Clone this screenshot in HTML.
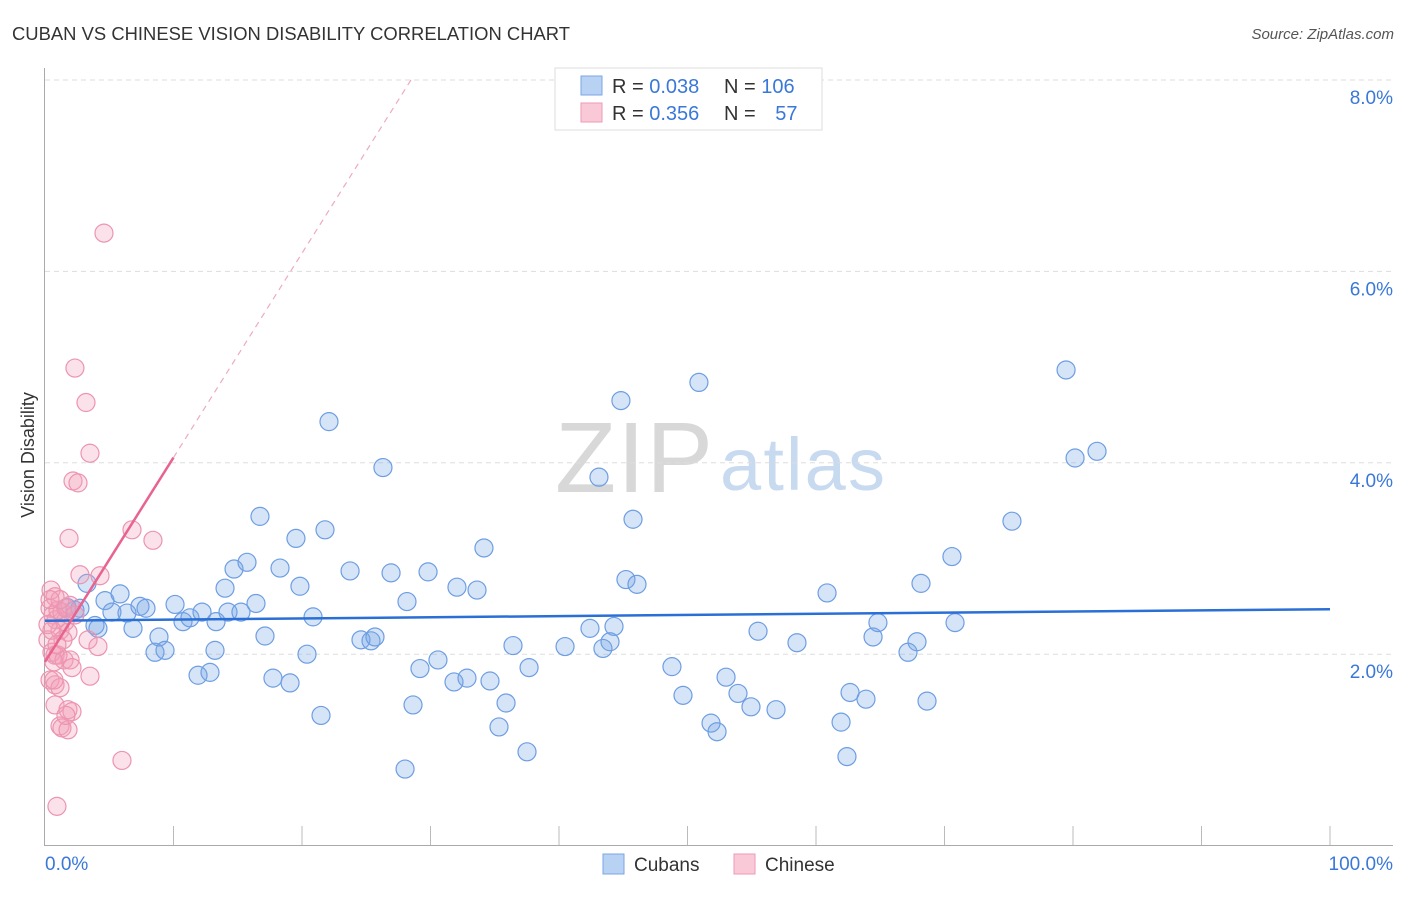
<!DOCTYPE html>
<html><head><meta charset="utf-8"><style>
body{margin:0;background:#fff;font-family:"Liberation Sans",sans-serif;}
svg text{font-family:"Liberation Sans",sans-serif;}
</style></head><body>
<svg id="c" width="1406" height="892">
<text x="12" y="40" font-size="18.4" fill="#333" textLength="558">CUBAN VS CHINESE VISION DISABILITY CORRELATION CHART</text>
<text x="1394" y="39" font-size="15" fill="#555" font-style="italic" text-anchor="end">Source: ZipAtlas.com</text>
<text x="0" y="0" transform="translate(34,455) rotate(-90)" font-size="18" fill="#333" text-anchor="middle">Vision Disability</text>
<text x="555" y="492" font-size="100" fill="#d8d8d8" font-family="Liberation Serif" textLength="158">ZIP</text>
<text x="720" y="490" font-size="74" fill="#c8daf0" textLength="165">atlas</text>
<g id="grid"></g><g id="ax"></g><g id="pts"></g><g id="trend"></g>
<g>
<rect x="555" y="68" width="267" height="62" fill="#fff" stroke="#ddd"/>
<rect x="581" y="76" width="21" height="19" fill="#b8d2f3" stroke="#7aa6e6"/>
<rect x="581" y="103" width="21" height="19" fill="#f9c9d7" stroke="#ee9ab5"/>
<text x="612" y="93" font-size="20" fill="#333">R = <tspan fill="#3a78d8">0.038</tspan></text>
<text x="724" y="93" font-size="20" fill="#333">N = <tspan fill="#3a78d8">106</tspan></text>
<text x="612" y="120" font-size="20" fill="#333">R = <tspan fill="#3a78d8">0.356</tspan></text>
<text x="724" y="120" font-size="20" fill="#333">N = <tspan fill="#3a78d8" dx="14">57</tspan></text>
</g>
<g>
<rect x="603" y="854" width="21" height="20" fill="#b8d2f3" stroke="#7aa6e6"/>
<text x="634" y="871" font-size="19" fill="#333">Cubans</text>
<rect x="734" y="854" width="21" height="20" fill="#f9c9d7" stroke="#ee9ab5"/>
<text x="765" y="871" font-size="19" fill="#333">Chinese</text>
</g>
</svg>
<script>
const yTicks=[2,4,6,8];
const cubanX=[3.27,1.71,2.33,2.72,3.89,4.12,4.67,5.21,5.84,6.38,6.85,7.39,7.86,8.56,8.87,9.34,10.12,10.74,11.28,11.91,12.22,12.84,13.23,13.31,14.01,14.24,14.71,15.25,15.72,16.42,16.73,17.12,17.74,18.29,19.07,19.53,19.84,20.39,20.86,21.48,21.79,22.1,23.74,24.59,25.37,25.68,26.3,26.93,28.17,28.02,28.64,29.18,29.81,30.58,31.83,32.06,32.84,33.62,34.63,34.16,35.88,35.33,36.42,37.51,37.67,40.47,42.41,43.11,43.42,43.97,44.28,44.82,45.21,45.76,46.07,48.79,49.65,50.89,51.83,52.3,53.0,53.93,54.94,55.49,56.89,58.52,60.86,61.95,62.41,62.65,63.89,64.44,64.82,67.16,67.86,68.17,68.64,70.58,70.82,75.25,79.46,80.16,81.87];
const cubanY=[2.74,2.49,2.46,2.48,2.30,2.27,2.56,2.44,2.63,2.43,2.27,2.50,2.48,2.02,2.18,2.04,2.52,2.34,2.38,1.78,2.44,1.81,2.04,2.34,2.69,2.44,2.89,2.44,2.96,2.53,3.44,2.19,1.75,2.90,1.70,3.21,2.71,2.00,2.39,1.36,3.30,4.43,2.87,2.15,2.14,2.18,3.95,2.85,2.55,0.80,1.47,1.85,2.86,1.94,1.71,2.70,1.75,2.67,1.72,3.11,1.49,1.24,2.09,0.98,1.86,2.08,2.27,3.85,2.06,2.13,2.29,4.65,2.78,3.41,2.73,1.87,1.57,4.84,1.28,1.19,1.76,1.59,1.45,2.24,1.42,2.12,2.64,1.29,0.93,1.60,1.53,2.18,2.33,2.02,2.13,2.74,1.51,3.02,2.33,3.39,4.97,4.05,4.12];
const chineseX=[0.47,0.78,0.39,0.62,0.86,1.17,0.23,0.54,0.78,1.32,1.56,1.79,1.01,1.48,1.95,2.10,0.39,0.78,1.17,0.78,1.17,1.79,2.10,1.32,1.79,2.33,3.19,3.50,2.18,2.57,1.87,2.72,6.77,8.40,4.59,4.28,3.35,4.12,3.50,5.99,0.93,0.23,0.54,1.01,1.63,1.95,1.17,2.33,0.39,1.40,0.93,0.70,1.63,0.70];
const chineseY=[2.67,2.60,2.48,2.41,2.36,2.25,2.15,2.02,1.99,2.44,2.34,2.23,1.99,1.94,1.94,1.86,1.73,1.68,1.65,1.47,1.25,1.42,1.40,1.23,1.21,4.99,4.63,4.10,3.81,3.79,3.21,2.83,3.30,3.19,6.40,2.82,2.15,2.08,1.77,0.89,0.41,2.31,2.25,2.46,2.48,2.51,2.57,2.41,2.57,2.15,2.10,1.92,1.36,1.73];
const cubanTrend=[2.35,2.47];
const chineseTrend=[1.92,0.2135];
const X0=45,X1=1330,Y0=845.6,PY=95.7;
const sx=v=>X0+(X1-X0)*v/100, sy=v=>Y0-v*PY;
const NS="http://www.w3.org/2000/svg";
function mk(t,a,p){const e=document.createElementNS(NS,t);for(const k in a)e.setAttribute(k,a[k]);p.appendChild(e);return e;}
const grid=document.getElementById('grid'),ax=document.getElementById('ax'),pts=document.getElementById('pts'),tr=document.getElementById('trend');
yTicks.forEach(v=>{
 const l=mk('line',{x1:45,x2:1393,y1:sy(v),y2:sy(v),stroke:'#ddd','stroke-dasharray':'5,4'},grid);
 
 
 const t=mk('text',{x:1393,y:sy(v)+24,'font-size':19,fill:'#3a78d8','text-anchor':'end'},ax);t.textContent=v.toFixed(1)+'%';
 
 
});
let a=mk('line',{x1:44.5,x2:44.5,y1:68,y2:845,stroke:'#aaa'},ax);


a=mk('line',{x1:44,x2:1393,y1:845.5,y2:845.5,stroke:'#aaa'},ax);


for(let i=1;i<=10;i++){const t=mk('line',{x1:sx(i*10),x2:sx(i*10),y1:826,y2:845,stroke:'#bbb'},ax);
 
 }
let t=mk('text',{x:45,y:870,'font-size':19,fill:'#3a78d8'},ax);t.textContent='0.0%';


t=mk('text',{x:1393,y:870,'font-size':19,fill:'#3a78d8','text-anchor':'end'},ax);t.textContent='100.0%';


cubanX.forEach((x,i)=>{const c=mk('circle',{cx:sx(x),cy:sy(cubanY[i]),r:9,fill:'rgba(120,165,230,0.3)',stroke:'#6d9ee3','stroke-width':1.2},pts);
 
 });
chineseX.forEach((x,i)=>{const c=mk('circle',{cx:sx(x),cy:sy(chineseY[i]),r:9,fill:'rgba(242,160,185,0.3)',stroke:'#ec94b0','stroke-width':1.2},pts);
 
 });
let l=mk('line',{x1:sx(0),y1:sy(cubanTrend[0]),x2:sx(100),y2:sy(cubanTrend[1]),stroke:'#2a6fd6','stroke-width':2.5},tr);


const xs=10,xe=(8-chineseTrend[0])/chineseTrend[1];
l=mk('line',{x1:sx(0),y1:sy(chineseTrend[0]),x2:sx(xs),y2:sy(chineseTrend[0]+chineseTrend[1]*xs),stroke:'#e8638f','stroke-width':2.5},tr);


l=mk('line',{x1:sx(xs),y1:sy(chineseTrend[0]+chineseTrend[1]*xs),x2:sx(xe),y2:sy(8),stroke:'#eeaabf','stroke-width':1.2,'stroke-dasharray':'6,5'},tr);


</script>
</body></html>
